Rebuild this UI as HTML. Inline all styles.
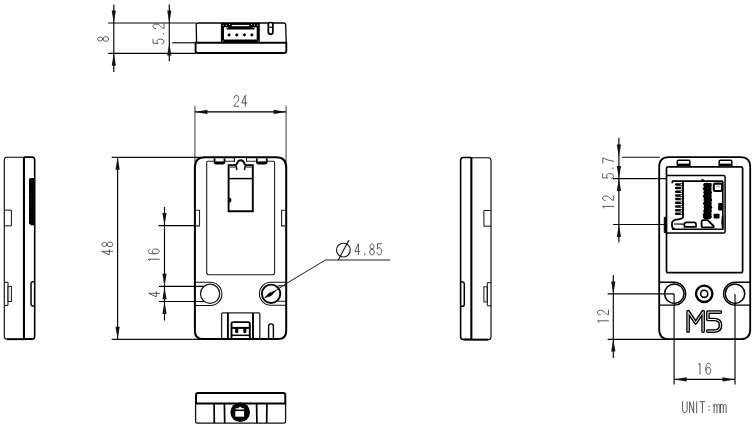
<!DOCTYPE html>
<html><head><meta charset="utf-8"><style>
html,body{margin:0;padding:0;background:#fff;width:755px;height:427px;overflow:hidden;font-family:"Liberation Sans",sans-serif;}
svg{display:block;}
</style></head><body>
<svg width="755" height="427" viewBox="0 0 755 427">
<line x1="113.80" y1="4.40" x2="113.80" y2="72.00" stroke="#000" stroke-width="1.15"/>
<path d="M113.80,23.00 L111.70,10.50 L115.90,10.50 Z" fill="#111"/>
<path d="M113.80,53.30 L111.70,65.80 L115.90,65.80 Z" fill="#111"/>
<line x1="108.20" y1="23.00" x2="196.00" y2="23.00" stroke="#000" stroke-width="1.15"/>
<line x1="108.20" y1="53.30" x2="196.00" y2="53.30" stroke="#000" stroke-width="1.15"/>
<g transform="translate(97.60,41.50) rotate(-90)"><path d="M 2.50,5.30 C 1.25,5.30 0.58,4.20 0.58,2.70 C 0.58,1.10 1.33,0.00 2.50,0.00 C 3.67,0.00 4.42,1.10 4.42,2.70 C 4.42,4.20 3.75,5.30 2.50,5.30 C 1.08,5.30 0.25,6.60 0.25,8.20 C 0.25,9.90 1.17,11.00 2.50,11.00 C 3.83,11.00 4.75,9.90 4.75,8.20 C 4.75,6.60 3.92,5.30 2.50,5.30 Z" fill="none" stroke="#333" stroke-width="0.82" stroke-linecap="round" stroke-linejoin="round"/></g>
<line x1="169.30" y1="4.40" x2="169.30" y2="61.30" stroke="#000" stroke-width="1.15"/>
<path d="M169.30,23.00 L167.20,10.50 L171.40,10.50 Z" fill="#111"/>
<path d="M169.30,43.00 L167.20,55.50 L171.40,55.50 Z" fill="#111"/>
<line x1="172.20" y1="42.80" x2="196.00" y2="42.80" stroke="#000" stroke-width="1.15"/>
<g transform="translate(153.00,44.00) rotate(-90)"><path d="M 4.67,0.00 L 0.83,0.00 L 0.50,5.00 C 1.08,4.30 1.75,4.00 2.50,4.00 C 4.00,4.00 4.92,5.30 4.92,7.40 C 4.92,9.70 3.83,11.00 2.50,11.00 C 1.33,11.00 0.42,10.20 0.17,8.90 M 15.45,2.80 C 15.45,1.00 16.45,0.00 17.70,0.00 C 19.03,0.00 19.95,1.10 19.95,3.00 C 19.95,5.00 19.03,6.30 17.70,7.60 C 16.28,8.90 15.45,10.00 15.45,11.00 L 20.12,11.00" fill="none" stroke="#333" stroke-width="0.82" stroke-linecap="round" stroke-linejoin="round"/><circle cx="10.10" cy="10.40" r="0.65" fill="#333"/></g>
<path d="M196.6,42.6 L196.2,25 Q196.2,23 198.2,23 L283.6,23 Q285.6,23 285.7,25 L286.2,42.6" fill="none" stroke="#000" stroke-width="1.3"/>
<path d="M195.6,42.8 L286.3,42.8 L286.3,51 Q286.3,53 284.3,53 L197.6,53 Q195.6,53 195.6,51 Z" fill="none" stroke="#000" stroke-width="1.9"/>
<rect x="220.9" y="22.9" width="38.9" height="19.6" fill="#000"/>
<path d="M224,27.3 L226.6,27.3 L226.6,29.6 L254.5,29.6 L254.5,27.3 L256.7,27.3 L256.7,39.6 L224,39.6 Z" fill="#fff"/>
<rect x="231.7" y="24.9" width="17.6" height="1.3" fill="#fff"/>
<circle cx="223.3" cy="25.3" r="0.55" fill="#fff"/>
<circle cx="226.2" cy="25.1" r="0.55" fill="#fff"/>
<circle cx="229.5" cy="24.2" r="0.55" fill="#fff"/>
<circle cx="251.5" cy="24.2" r="0.55" fill="#fff"/>
<circle cx="254.6" cy="25.1" r="0.55" fill="#fff"/>
<circle cx="257.5" cy="25.3" r="0.55" fill="#fff"/>
<circle cx="227.7" cy="27.5" r="0.55" fill="#fff"/>
<circle cx="253.2" cy="27.5" r="0.55" fill="#fff"/>
<circle cx="223.0" cy="41.0" r="0.55" fill="#fff"/>
<circle cx="258.0" cy="41.0" r="0.55" fill="#fff"/>
<path d="M229.1,33.0 L231.0,34.9 L229.1,36.8 L227.2,34.9 Z" fill="#000"/>
<path d="M236.8,33.0 L238.7,34.9 L236.8,36.8 L234.9,34.9 Z" fill="#000"/>
<path d="M244.4,33.0 L246.3,34.9 L244.4,36.8 L242.5,34.9 Z" fill="#000"/>
<path d="M251.9,33.0 L253.8,34.9 L251.9,36.8 L250.0,34.9 Z" fill="#000"/>
<rect x="268.3" y="22.5" width="4.6" height="11.9" rx="2.3" fill="#fff" stroke="#000" stroke-width="1.7"/>
<line x1="268.30" y1="27.20" x2="272.90" y2="27.20" stroke="#000" stroke-width="1.20"/>
<g><path d="M24,157.3 L6.7,157.3 Q4.3,157.5 4.3,160 L4.3,336.5 Q4.3,339.2 7,339.2 L24,339.2" fill="none" stroke="#000" stroke-width="1.1"/><path d="M24,157.1 L32,157.1 Q34.7,157.1 34.7,160 L34.7,336.3 Q34.7,339.1 32,339.1 L24,339.1" fill="none" stroke="#000" stroke-width="1.6"/><path d="M7,339.2 L24,339.2" stroke="#000" stroke-width="1.9"/><path d="M24,339.1 L32,339.1" stroke="#000" stroke-width="1.9"/><rect x="22.9" y="157" width="2.1" height="182.3" fill="#000"/><path d="M29,179.6 Q29,178.1 30.5,178.1 L34,178.1 L34,225.2 L30.6,225.2 L30.6,224.6 Q29,224.6 29,223.2 Z" fill="#000"/><circle cx="31" cy="194.5" r="0.45" fill="#666"/><circle cx="31" cy="199.4" r="0.45" fill="#666"/><circle cx="31" cy="203.8" r="0.45" fill="#666"/><circle cx="31" cy="207.8" r="0.45" fill="#666"/><circle cx="31" cy="212.1" r="0.45" fill="#666"/><circle cx="31" cy="220.5" r="0.45" fill="#666"/><path d="M4.3,210.1 L11.4,210.1 L11.4,225.8 L4.3,225.8" fill="none" stroke="#111" stroke-width="1"/><rect x="8" y="286.4" width="3.4" height="15.1" fill="#fff" stroke="#111" stroke-width="1"/><path d="M4.3,282.3 L8,282.3 L8,305.4 L4.3,305.4" fill="none" stroke="#111" stroke-width="1"/><rect x="8.4" y="287" width="0.9" height="14" fill="#999"/><path d="M34.7,281.7 L32.6,281.7 Q31,281.7 31,283.5 L31,304.1 Q31,305.9 32.6,305.9 L34.7,305.9" fill="none" stroke="#000" stroke-width="1.5"/></g>
<g transform="translate(495.3,0.4) scale(-1,1)"><path d="M24,157.3 L6.7,157.3 Q4.3,157.5 4.3,160 L4.3,336.5 Q4.3,339.2 7,339.2 L24,339.2" fill="none" stroke="#000" stroke-width="1.1"/><path d="M24,157.1 L32,157.1 Q34.7,157.1 34.7,160 L34.7,336.3 Q34.7,339.1 32,339.1 L24,339.1" fill="none" stroke="#000" stroke-width="1.6"/><path d="M7,339.2 L24,339.2" stroke="#000" stroke-width="1.9"/><path d="M24,339.1 L32,339.1" stroke="#000" stroke-width="1.9"/><rect x="22.9" y="157" width="2.1" height="182.3" fill="#000"/><path d="M4.3,210.1 L11.4,210.1 L11.4,225.8 L4.3,225.8" fill="none" stroke="#111" stroke-width="1"/><rect x="8" y="286.4" width="3.4" height="15.1" fill="#fff" stroke="#111" stroke-width="1"/><path d="M4.3,282.3 L8,282.3 L8,305.4 L4.3,305.4" fill="none" stroke="#111" stroke-width="1"/><rect x="8.4" y="287" width="0.9" height="14" fill="#999"/><path d="M34.7,281.7 L32.6,281.7 Q31,281.7 31,283.5 L31,304.1 Q31,305.9 32.6,305.9 L34.7,305.9" fill="none" stroke="#000" stroke-width="1.5"/></g>
<line x1="194.90" y1="105.80" x2="194.90" y2="162.50" stroke="#555" stroke-width="1.15"/>
<line x1="286.10" y1="105.80" x2="286.10" y2="162.50" stroke="#555" stroke-width="1.15"/>
<line x1="194.90" y1="111.90" x2="286.10" y2="111.90" stroke="#000" stroke-width="1.15"/>
<path d="M194.90,111.90 L207.40,109.80 L207.40,114.00 Z" fill="#111"/>
<path d="M286.10,111.90 L273.60,109.80 L273.60,114.00 Z" fill="#111"/>
<g transform="translate(233.90,95.30)"><path d="M 0.25,2.80 C 0.25,1.00 1.25,0.00 2.50,0.00 C 3.83,0.00 4.75,1.10 4.75,3.00 C 4.75,5.00 3.83,6.30 2.50,7.60 C 1.08,8.90 0.25,10.00 0.25,11.00 L 4.92,11.00 M 11.40,11.00 L 11.40,0.00 L 7.90,7.60 L 12.90,7.60" fill="none" stroke="#333" stroke-width="0.82" stroke-linecap="round" stroke-linejoin="round"/></g>
<line x1="111.70" y1="157.30" x2="201.00" y2="157.30" stroke="#111" stroke-width="1.15"/>
<line x1="111.60" y1="339.30" x2="203.00" y2="339.30" stroke="#111" stroke-width="1.15"/>
<line x1="117.60" y1="157.20" x2="117.60" y2="339.30" stroke="#000" stroke-width="1.15"/>
<path d="M117.60,157.20 L115.50,169.70 L119.70,169.70 Z" fill="#111"/>
<path d="M117.60,339.30 L115.50,326.80 L119.70,326.80 Z" fill="#111"/>
<g transform="translate(101.70,254.80) rotate(-90)"><path d="M 3.50,11.00 L 3.50,0.00 L 0.00,7.60 L 5.00,7.60 M 10.40,5.30 C 9.15,5.30 8.48,4.20 8.48,2.70 C 8.48,1.10 9.23,0.00 10.40,0.00 C 11.57,0.00 12.32,1.10 12.32,2.70 C 12.32,4.20 11.65,5.30 10.40,5.30 C 8.98,5.30 8.15,6.60 8.15,8.20 C 8.15,9.90 9.07,11.00 10.40,11.00 C 11.73,11.00 12.65,9.90 12.65,8.20 C 12.65,6.60 11.82,5.30 10.40,5.30 Z" fill="none" stroke="#333" stroke-width="0.82" stroke-linecap="round" stroke-linejoin="round"/></g>
<line x1="164.50" y1="207.00" x2="164.50" y2="320.50" stroke="#000" stroke-width="1.15"/>
<path d="M164.50,225.60 L162.40,213.10 L166.60,213.10 Z" fill="#111"/>
<path d="M164.50,286.30 L162.40,273.80 L166.60,273.80 Z" fill="#111"/>
<path d="M164.50,287.30 L162.40,299.30 L166.60,299.30 Z" fill="#111"/>
<path d="M164.50,301.50 L162.40,314.00 L166.60,314.00 Z" fill="#111"/>
<line x1="158.50" y1="225.60" x2="195.00" y2="225.60" stroke="#000" stroke-width="1.15"/>
<line x1="159.00" y1="286.30" x2="204.00" y2="286.30" stroke="#000" stroke-width="1.15"/>
<line x1="159.00" y1="301.50" x2="204.00" y2="301.50" stroke="#000" stroke-width="1.15"/>
<g transform="translate(148.20,261.80) rotate(-90)"><path d="M 1.17,1.60 L 2.58,0.00 L 2.58,11.00 M 12.48,1.90 C 12.15,0.60 11.40,0.00 10.48,0.00 C 8.73,0.00 7.98,2.50 7.98,6.00 C 7.98,9.30 8.82,11.00 10.40,11.00 C 11.90,11.00 12.82,9.60 12.82,7.40 C 12.82,5.30 11.90,4.10 10.48,4.10 C 9.23,4.10 8.32,5.00 7.98,6.50" fill="none" stroke="#333" stroke-width="0.82" stroke-linecap="round" stroke-linejoin="round"/></g>
<g transform="translate(148.70,296.80) rotate(-90)"><path d="M 3.50,11.00 L 3.50,0.00 L 0.00,7.60 L 5.00,7.60" fill="none" stroke="#333" stroke-width="0.82" stroke-linecap="round" stroke-linejoin="round"/></g>
<path d="M205,157.2 L276.2,157.2 Q286.2,157.2 286.2,167.2 L286.2,331 Q286.2,339.1 278,339.1 L203,339.1 Q194.9,339.1 194.9,331 L194.9,167.2 Q194.9,157.2 205,157.2 Z" fill="none" stroke="#000" stroke-width="2"/>
<path d="M207.7,161.2 L273.6,161.2 Q274.6,161.2 274.6,162.2 L274.6,272.4 Q274.6,274.7 272.3,274.7 L209,274.7 Q206.7,274.7 206.7,272.4 L206.7,162.2 Q206.7,161.2 207.7,161.2 Z" fill="none" stroke="#222" stroke-width="1.1"/>
<path d="M213.7,158.2 L213.7,161.8 Q213.7,164.5 216.3,164.5 L222.7,164.5 Q225.3,164.5 225.3,161.8 L225.3,158.2 Z" fill="#000"/>
<rect x="215.4" y="158.3" width="8.2" height="3.1" fill="#fff"/>
<path d="M256.0,158.2 L256.0,161.8 Q256.0,164.5 258.6,164.5 L265.0,164.5 Q267.6,164.5 267.6,161.8 L267.6,158.2 Z" fill="#000"/>
<rect x="257.7" y="158.3" width="8.2" height="3.1" fill="#fff"/>
<path d="M234.4,157.5 L234.4,161.6 M246.3,157.5 L246.3,161.6" stroke="#000" stroke-width="1.2"/>
<rect x="235" y="158.2" width="11" height="6" fill="#fff"/>
<path d="M228.6,165.2 L235.2,165.2 Q236.6,165 237.4,162.6 Q238.3,160.3 240.7,160.3 Q243.1,160.3 244,162.6 Q244.8,165 246.2,165.2 L252.8,165.2 L252.8,211.2 L228.6,211.2 Z" fill="#fff" stroke="#000" stroke-width="1.9"/>
<line x1="228.60" y1="178.60" x2="252.80" y2="178.60" stroke="#000" stroke-width="1.50"/>
<path d="M229.6,167.3 L235.8,167.3 M245.6,167.3 L251.8,167.3" stroke="#777" stroke-width="1.4"/>
<path d="M236.2,165.5 Q236.5,168.5 236.9,170 M245.2,165.5 Q244.9,168.5 244.5,170" fill="none" stroke="#000" stroke-width="1.5"/>
<path d="M228.8,197.5 A2.6,2.6 0 0 1 228.8,202.7 Z" fill="#000"/>
<path d="M195,210.3 L199.5,210.3 L199.5,225.9 L195,225.9" fill="none" stroke="#222" stroke-width="1.1"/>
<path d="M286,210.3 L281.6,210.3 L281.6,225.9 L286,225.9" fill="none" stroke="#222" stroke-width="1.1"/>
<path d="M195,282.3 L210.3,282.3 A11.6,11.6 0 0 1 210.3,305.5 L195,305.5" fill="none" stroke="#111" stroke-width="1.1"/>
<circle cx="210.1" cy="293.8" r="9.6" fill="#fff" stroke="#111" stroke-width="1.2"/>
<path d="M286,282.3 L270.9,282.3 A11.5,11.5 0 0 0 270.9,305.3 L286,305.3" fill="none" stroke="#111" stroke-width="1.1"/>
<path d="M278,285.7 L286,285.7 M278,301.3 L286,301.3" stroke="#111" stroke-width="1.1"/>
<circle cx="271.1" cy="293.8" r="9.2" fill="#fff" stroke="#000" stroke-width="1.9"/>
<path d="M264.8,297.6 L286.6,283.4 L325.6,259.9 L390.2,259.9" fill="none" stroke="#222" stroke-width="1.05"/>
<path d="M265.1,297.5 L269.3,293.0 L275.4,291.1 L271.1,295.7 Z" fill="#000" stroke="#000" stroke-width="0.6" stroke-linejoin="round"/>
<circle cx="343.4" cy="250.1" r="6.9" fill="none" stroke="#111" stroke-width="1.1"/>
<line x1="338.30" y1="260.00" x2="348.90" y2="240.20" stroke="#111" stroke-width="1.10"/>
<g transform="translate(354.90,243.80)"><path d="M 3.50,11.00 L 3.50,0.00 L 0.00,7.60 L 5.00,7.60 M 17.10,5.30 C 15.85,5.30 15.18,4.20 15.18,2.70 C 15.18,1.10 15.93,0.00 17.10,0.00 C 18.27,0.00 19.02,1.10 19.02,2.70 C 19.02,4.20 18.35,5.30 17.10,5.30 C 15.68,5.30 14.85,6.60 14.85,8.20 C 14.85,9.90 15.77,11.00 17.10,11.00 C 18.43,11.00 19.35,9.90 19.35,8.20 C 19.35,6.60 18.52,5.30 17.10,5.30 Z M 26.57,0.00 L 22.73,0.00 L 22.40,5.00 C 22.98,4.30 23.65,4.00 24.40,4.00 C 25.90,4.00 26.82,5.30 26.82,7.40 C 26.82,9.70 25.73,11.00 24.40,11.00 C 23.23,11.00 22.32,10.20 22.07,8.90" fill="none" stroke="#333" stroke-width="0.82" stroke-linecap="round" stroke-linejoin="round"/><circle cx="9.80" cy="10.40" r="0.65" fill="#333"/></g>
<path d="M221.6,339 L221.6,314 Q221.6,312.9 222.7,312.9 L258.7,312.9 Q259.8,312.9 259.8,314 L259.8,339" fill="none" stroke="#222" stroke-width="1.3"/>
<line x1="227.90" y1="312.90" x2="227.90" y2="339.00" stroke="#000" stroke-width="1.90"/>
<line x1="253.00" y1="312.90" x2="253.00" y2="339.00" stroke="#000" stroke-width="1.90"/>
<path d="M231.5,339 L231.5,323.5 Q231.5,322.1 233,322.1 L248.3,322.1 Q249.8,322.1 249.8,323.5 L249.8,339" fill="none" stroke="#000" stroke-width="1.9"/>
<line x1="231.50" y1="327.90" x2="249.80" y2="327.90" stroke="#000" stroke-width="2.00"/>
<line x1="231.50" y1="335.30" x2="249.80" y2="335.30" stroke="#000" stroke-width="1.50"/>
<path d="M235.1,327.9 L235.1,332.3 Q236.7,334.4 238.3,332.3 L238.3,327.9 Z M243.3,327.9 L243.3,332.3 Q244.8,334.4 246.4,332.3 L246.4,327.9 Z" fill="#000"/>
<path d="M268.6,339 L268.6,326.3 A2.4,2.4 0 0 1 273.4,326.3 L273.4,339" fill="none" stroke="#000" stroke-width="1.4"/>
<path d="M196,403.5 L196,395 Q196,392.9 198,392.9 L283.3,392.9 Q285.3,392.9 285.3,395 L285.3,403.5 Z" fill="none" stroke="#000" stroke-width="2"/>
<path d="M195.6,403.5 L195.6,421.6 Q195.6,423.2 197.2,423.2 L284,423.2 Q285.6,423.2 285.6,421.6 L285.6,403.5" fill="none" stroke="#111" stroke-width="1.3"/>
<path d="M214.1,403.5 L214.3,423 M224.4,403.5 L224.7,423 M256.6,403.5 L256.9,423 M266.9,403.5 L266.7,423" stroke="#000" stroke-width="1.7"/>
<circle cx="240.2" cy="412.3" r="9.8" fill="#000"/>
<path d="M235.6,409.4 L235.6,408.3 L238.2,408.3 L240.1,406.6 L242,408.3 L244.1,408.3 L244.1,409.4 Z" fill="#fff"/>
<rect x="235.3" y="411.1" width="8.8" height="5.6" fill="#fff"/>
<path d="M668.7,157.1 L740.5,157.1 Q750.2,157.1 750.2,166.8 L750.2,329.5 Q750.2,339.2 740.5,339.2 L668.9,339.2 Q659.2,339.2 659.2,329.5 L659.2,166.8 Q659.2,157.1 668.7,157.1 Z" fill="none" stroke="#000" stroke-width="1.8"/>
<path d="M668.2,166.8 L741,166.8 Q742.6,166.8 742.6,168.4 L742.6,271 Q742.6,272.7 741,272.7 L668.2,272.7 Q666.5,272.7 666.5,271 L666.5,168.4 Q666.5,166.8 668.2,166.8 Z" fill="none" stroke="#000" stroke-width="1.7"/>
<path d="M677.3,166.8 L677.3,161.5 Q677.3,160.3 678.5,160.3 L688.7,160.3 Q689.9,160.3 689.9,161.5 L689.9,166.8" fill="#fff" stroke="#000" stroke-width="1.5"/>
<rect x="677.3" y="163.6" width="12.6" height="3.2" fill="#000"/>
<path d="M719.2,166.8 L719.2,161.5 Q719.2,160.3 720.4,160.3 L730.6,160.3 Q731.8,160.3 731.8,161.5 L731.8,166.8" fill="#fff" stroke="#000" stroke-width="1.5"/>
<rect x="719.2" y="163.6" width="12.6" height="3.2" fill="#000"/>
<path d="M666.6,175.6 L723.5,175.6 Q725.1,175.6 725.1,177.2 L725.1,231.5 Q725.1,233.1 723.5,233.1 L666.6,233.1" fill="none" stroke="#000" stroke-width="1.5"/>
<path d="M672.2,181.2 L722.8,181.2" stroke="#000" stroke-width="1.8"/>
<path d="M722.8,181.2 L722.8,229.2 L672,229.2" fill="none" stroke="#000" stroke-width="1.6"/>
<path d="M683,181.2 L683,217.4 Q681.5,219.3 676,219.6 Q672,220.5 672,223.5 L672,226 Q672.5,229 675,229.2" fill="none" stroke="#000" stroke-width="1.8"/>
<path d="M676.2,184.4 L682,184.4" stroke="#000" stroke-width="2.5" stroke-linecap="round"/>
<circle cx="681.3" cy="184.4" r="0.75" fill="#fff"/>
<path d="M676.2,188.1 L682,188.1" stroke="#000" stroke-width="2.5" stroke-linecap="round"/>
<circle cx="681.3" cy="188.1" r="0.75" fill="#fff"/>
<path d="M676.2,191.8 L682,191.8" stroke="#000" stroke-width="2.5" stroke-linecap="round"/>
<circle cx="681.3" cy="191.8" r="0.75" fill="#fff"/>
<path d="M676.2,195.4 L682,195.4" stroke="#000" stroke-width="2.5" stroke-linecap="round"/>
<circle cx="681.3" cy="195.4" r="0.75" fill="#fff"/>
<path d="M676.2,199.1 L682,199.1" stroke="#000" stroke-width="2.5" stroke-linecap="round"/>
<circle cx="681.3" cy="199.1" r="0.75" fill="#fff"/>
<path d="M676.2,202.8 L682,202.8" stroke="#000" stroke-width="2.5" stroke-linecap="round"/>
<circle cx="681.3" cy="202.8" r="0.75" fill="#fff"/>
<path d="M676.2,206.5 L682,206.5" stroke="#000" stroke-width="2.5" stroke-linecap="round"/>
<circle cx="681.3" cy="206.5" r="0.75" fill="#fff"/>
<path d="M676.2,210.2 L682,210.2" stroke="#000" stroke-width="2.5" stroke-linecap="round"/>
<circle cx="681.3" cy="210.2" r="0.75" fill="#fff"/>
<path d="M676.2,213.8 L682,213.8" stroke="#000" stroke-width="2.5" stroke-linecap="round"/>
<circle cx="681.3" cy="213.8" r="0.75" fill="#fff"/>
<path d="M672.5,183.2 Q671.6,181.2 673.3,181.2" fill="none" stroke="#000" stroke-width="1.6"/>
<path d="M674,224 L684,224.2" stroke="#000" stroke-width="1.2"/>
<path d="M684.4,224.3 Q684.4,222.3 686.4,222.3 L694,222.3 Q696,222.3 696,224.3 L696,226.9 L684.4,226.9 Z" fill="none" stroke="#000" stroke-width="1.7"/>
<g fill="#000"><ellipse cx="707.4" cy="185.0" rx="4.3" ry="2.3"/><ellipse cx="707.0" cy="188.8" rx="4.3" ry="2.3"/><ellipse cx="707.6" cy="192.5" rx="4.3" ry="2.3"/><ellipse cx="707.2" cy="196.2" rx="4.3" ry="2.3"/><ellipse cx="707.8" cy="199.9" rx="4.3" ry="2.3"/><ellipse cx="707.3" cy="203.6" rx="4.3" ry="2.3"/><ellipse cx="707.9" cy="207.3" rx="4.3" ry="2.3"/><ellipse cx="707.5" cy="211.0" rx="4.3" ry="2.3"/><ellipse cx="707.0" cy="214.7" rx="4.3" ry="2.3"/><ellipse cx="707.3" cy="217.0" rx="4.3" ry="2.3"/><rect x="704" y="183" width="7.4" height="35"/></g>
<rect x="713.8" y="183.6" width="8.4" height="7.4" rx="1.2" fill="#fff" stroke="#000" stroke-width="2.1"/>
<path d="M716.5,186.5 L718.5,185.8 L719.5,187.5" fill="none" stroke="#777" stroke-width="0.9"/>
<path d="M701.5,181.2 Q702.3,177.6 703.8,181.2" fill="none" stroke="#000" stroke-width="1.1"/>
<rect x="718.2" y="202.9" width="5" height="7.7" rx="1" fill="#000"/>
<rect x="713.6" y="213.8" width="6" height="4.6" rx="0.8" fill="#000"/>
<path d="M721.8,215.5 L723.5,215.5 L723.5,228 L721.8,228 Q720.8,222 721.8,215.5 Z" fill="#000"/>
<path d="M703.2,220.2 L707.6,220.2 L713.6,226 L713.6,227.4 L703.2,227.4 Q701.6,227.4 701.6,225.8 L701.6,221.8 Q701.6,220.2 703.2,220.2 Z" fill="none" stroke="#000" stroke-width="1.8"/>
<path d="M666.6,216.8 L664.2,217.5 L664.2,232.5 L666.6,233" fill="#000" stroke="#000" stroke-width="0.8"/>
<path d="M659.5,282.3 L674.3,282.3 A11.4,11.4 0 0 1 674.3,305.1 L659.5,305.1" fill="none" stroke="#000" stroke-width="1.4"/>
<circle cx="674.3" cy="293.7" r="9.7" fill="#fff" stroke="#000" stroke-width="1.5"/>
<path d="M750,282.3 L735,282.3 A11.4,11.4 0 0 0 735,305.1 L750,305.1" fill="none" stroke="#000" stroke-width="1.4"/>
<circle cx="735" cy="293.7" r="9.7" fill="#fff" stroke="#000" stroke-width="1.5"/>
<circle cx="704.2" cy="293.8" r="8.2" fill="none" stroke="#000" stroke-width="2.4"/>
<circle cx="704.2" cy="293.8" r="3.6" fill="none" stroke="#000" stroke-width="1.6"/>
<path d="M688.1,331.2 L688.1,311.6 L695.7,322.8 L703.1,311.6 L703.1,331.2 M720.4,312.1 L707.9,312.1 L707.9,319.5 L714,319.5 Q720.5,319.5 720.5,325.3 Q720.5,331.1 714,331.1 L707.8,331.1" fill="none" stroke="#000" stroke-width="3.7" stroke-linecap="round" stroke-linejoin="round"/>
<path d="M688.1,331.2 L688.1,311.6 L695.7,322.8 L703.1,311.6 L703.1,331.2 M720.4,312.1 L707.9,312.1 L707.9,319.5 L714,319.5 Q720.5,319.5 720.5,325.3 Q720.5,331.1 714,331.1 L707.8,331.1" fill="none" stroke="#fff" stroke-width="1.0" stroke-linecap="round" stroke-linejoin="round"/>
<line x1="618.90" y1="138.00" x2="618.90" y2="242.50" stroke="#000" stroke-width="1.15"/>
<path d="M618.90,157.00 L616.80,144.50 L621.00,144.50 Z" fill="#111"/>
<path d="M618.90,178.60 L616.80,166.10 L621.00,166.10 Z" fill="#111"/>
<path d="M618.90,178.60 L616.80,191.10 L621.00,191.10 Z" fill="#111"/>
<path d="M618.90,224.50 L616.80,237.00 L621.00,237.00 Z" fill="#111"/>
<line x1="622.00" y1="157.20" x2="660.00" y2="157.20" stroke="#111" stroke-width="1.15"/>
<line x1="613.00" y1="178.60" x2="666.50" y2="178.60" stroke="#000" stroke-width="1.15"/>
<line x1="613.00" y1="224.50" x2="664.50" y2="224.50" stroke="#000" stroke-width="1.15"/>
<g transform="translate(602.60,178.60) rotate(-90)"><path d="M 4.67,0.00 L 0.83,0.00 L 0.50,5.00 C 1.08,4.30 1.75,4.00 2.50,4.00 C 4.00,4.00 4.92,5.30 4.92,7.40 C 4.92,9.70 3.83,11.00 2.50,11.00 C 1.33,11.00 0.42,10.20 0.17,8.90 M 15.70,0.20 L 20.70,0.20 C 19.03,3.50 17.87,7.00 17.37,11.00" fill="none" stroke="#333" stroke-width="0.82" stroke-linecap="round" stroke-linejoin="round"/><circle cx="10.35" cy="10.40" r="0.65" fill="#333"/></g>
<g transform="translate(602.60,209.00) rotate(-90)"><path d="M 1.17,1.60 L 2.58,0.00 L 2.58,11.00 M 8.55,2.80 C 8.55,1.00 9.55,0.00 10.80,0.00 C 12.13,0.00 13.05,1.10 13.05,3.00 C 13.05,5.00 12.13,6.30 10.80,7.60 C 9.38,8.90 8.55,10.00 8.55,11.00 L 13.22,11.00" fill="none" stroke="#333" stroke-width="0.82" stroke-linecap="round" stroke-linejoin="round"/></g>
<line x1="613.30" y1="275.00" x2="613.30" y2="358.00" stroke="#000" stroke-width="1.15"/>
<path d="M613.30,293.90 L611.20,281.40 L615.40,281.40 Z" fill="#111"/>
<path d="M613.30,338.90 L611.20,351.40 L615.40,351.40 Z" fill="#111"/>
<line x1="607.60" y1="293.90" x2="674.30" y2="293.90" stroke="#000" stroke-width="1.15"/>
<line x1="607.60" y1="339.30" x2="668.00" y2="339.30" stroke="#000" stroke-width="1.15"/>
<g transform="translate(597.50,323.40) rotate(-90)"><path d="M 1.17,1.60 L 2.58,0.00 L 2.58,11.00 M 8.55,2.80 C 8.55,1.00 9.55,0.00 10.80,0.00 C 12.13,0.00 13.05,1.10 13.05,3.00 C 13.05,5.00 12.13,6.30 10.80,7.60 C 9.38,8.90 8.55,10.00 8.55,11.00 L 13.22,11.00" fill="none" stroke="#333" stroke-width="0.82" stroke-linecap="round" stroke-linejoin="round"/></g>
<line x1="674.10" y1="293.90" x2="674.10" y2="384.60" stroke="#000" stroke-width="1.15"/>
<line x1="735.00" y1="293.90" x2="735.00" y2="384.60" stroke="#000" stroke-width="1.15"/>
<line x1="674.10" y1="379.40" x2="735.00" y2="379.40" stroke="#000" stroke-width="1.15"/>
<path d="M674.10,379.40 L686.60,377.30 L686.60,381.50 Z" fill="#111"/>
<path d="M735.00,379.40 L722.50,377.30 L722.50,381.50 Z" fill="#111"/>
<g transform="translate(697.40,363.20)"><path d="M 1.17,1.60 L 2.58,0.00 L 2.58,11.00 M 12.98,1.90 C 12.65,0.60 11.90,0.00 10.98,0.00 C 9.23,0.00 8.48,2.50 8.48,6.00 C 8.48,9.30 9.32,11.00 10.90,11.00 C 12.40,11.00 13.32,9.60 13.32,7.40 C 13.32,5.30 12.40,4.10 10.98,4.10 C 9.73,4.10 8.82,5.00 8.48,6.50" fill="none" stroke="#333" stroke-width="0.82" stroke-linecap="round" stroke-linejoin="round"/></g>
<g transform="translate(682.30,401.70)"><path d="M 0.17,0.00 L 0.17,7.80 C 0.17,9.90 1.08,11.00 2.50,11.00 C 3.92,11.00 4.83,9.90 4.83,7.80 L 4.83,0.00 M 7.33,11.00 L 7.33,0.00 L 11.33,11.00 L 11.33,0.00 M 14.40,0.00 L 14.40,11.00 M 17.60,0.00 L 22.60,0.00 M 20.10,0.00 L 20.10,11.00 M 31.77,11.00 L 31.77,2.60 M 31.77,4.40 C 32.02,3.10 32.60,2.60 33.27,2.60 C 34.18,2.60 34.68,3.30 34.68,4.60 L 34.68,11.00 M 34.68,4.40 C 34.93,3.10 35.52,2.60 36.18,2.60 C 37.10,2.60 37.60,3.30 37.60,4.60 L 37.60,11.00 M 38.07,11.00 L 38.07,2.60 M 38.07,4.40 C 38.32,3.10 38.90,2.60 39.57,2.60 C 40.48,2.60 40.98,3.30 40.98,4.60 L 40.98,11.00 M 40.98,4.40 C 41.23,3.10 41.82,2.60 42.48,2.60 C 43.40,2.60 43.90,3.30 43.90,4.60 L 43.90,11.00" fill="none" stroke="#333" stroke-width="0.82" stroke-linecap="round" stroke-linejoin="round"/><circle cx="26.80" cy="4.60" r="0.65" fill="#333"/><circle cx="26.80" cy="8.20" r="0.65" fill="#333"/></g>
</svg>
</body></html>
